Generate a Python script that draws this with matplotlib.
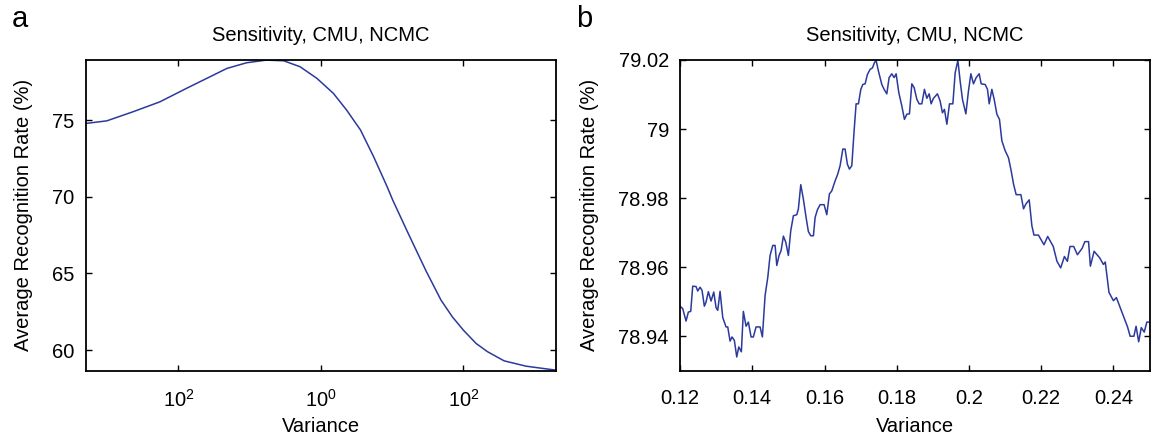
import numpy as np
import matplotlib
matplotlib.use("Agg")
import matplotlib.pyplot as plt
from matplotlib.ticker import FuncFormatter, NullLocator

plt.rcParams['font.family'] = ['Liberation Sans', 'DejaVu Sans']
plt.rcParams['mathtext.default'] = 'regular'

# panel a : recognition rate vs variance (log axis)
var_a = [5.0e-4, 9.9e-4, 2.3e-3, 5.5e-3, 1.3e-2, 2.5e-2, 4.8e-2, 9.1e-2, 0.17, 0.30,
         0.51, 0.88, 1.5, 2.3, 3.6, 5.5, 8.5, 10.2, 16.5, 30, 48.5, 70, 100, 151,
         219, 372, 759, 2000]
rate_a = [74.78, 74.95, 75.54, 76.19, 77.07, 77.72, 78.37, 78.74, 78.91, 78.87,
          78.48, 77.72, 76.74, 75.65, 74.35, 72.61, 70.66, 69.78, 67.69, 65.15,
          63.26, 62.17, 61.30, 60.43, 59.89, 59.30, 58.95, 58.69]
ticks_a = [1e-2, 1e0, 1e2]
ticklabels_a = ['10$^{2}$', '10$^{0}$', '10$^{2}$']

# panel b : zoom around the optimum
var_b = [0.12000, 0.12074, 0.12166, 0.12230, 0.12296, 0.12351, 0.12443, 0.12490, 0.12554, 0.12609,
         0.12673, 0.12720, 0.12784, 0.12859, 0.12934, 0.12997, 0.13044, 0.13108, 0.13183, 0.13274,
         0.13321, 0.13385, 0.13440, 0.13504, 0.13570, 0.13626, 0.13698, 0.13753, 0.13828, 0.13892,
         0.13967, 0.14030, 0.14105, 0.14216, 0.14280, 0.14355, 0.14430, 0.14493, 0.14568, 0.14632,
         0.14679, 0.14742, 0.14798, 0.14862, 0.14928, 0.15000, 0.15066, 0.15139, 0.15233, 0.15277,
         0.15343, 0.15415, 0.15490, 0.15554, 0.15620, 0.15693, 0.15740, 0.15803, 0.15878, 0.15989,
         0.16063, 0.16136, 0.16202, 0.16294, 0.16368, 0.16432, 0.16507, 0.16570, 0.16634, 0.16690,
         0.16756, 0.16820, 0.16875, 0.16939, 0.17006, 0.17061, 0.17125, 0.17188, 0.17263, 0.17327,
         0.17382, 0.17429, 0.17493, 0.17587, 0.17650, 0.17725, 0.17789, 0.17864, 0.17928, 0.17983,
         0.18058, 0.18141, 0.18213, 0.18280, 0.18352, 0.18418, 0.18482, 0.18557, 0.18621, 0.18695,
         0.18767, 0.18834, 0.18898, 0.18953, 0.19017, 0.19127, 0.19202, 0.19266, 0.19321, 0.19388,
         0.19461, 0.19554, 0.19618, 0.19693, 0.19756, 0.19820, 0.19914, 0.19986, 0.20053, 0.20125,
         0.20200, 0.20283, 0.20338, 0.20449, 0.20513, 0.20560, 0.20634, 0.20698, 0.20773, 0.20845,
         0.20911, 0.21003, 0.21094, 0.21169, 0.21233, 0.21307, 0.21438, 0.21511, 0.21576, 0.21668,
         0.21742, 0.21800, 0.21923, 0.22077, 0.22180, 0.22334, 0.22437, 0.22540, 0.22643, 0.22725,
         0.22797, 0.22900, 0.23003, 0.23136, 0.23208, 0.23311, 0.23362, 0.23465, 0.23620, 0.23722,
         0.23774, 0.23877, 0.24000, 0.24082, 0.24288, 0.24391, 0.24463, 0.24566, 0.24627, 0.24699,
         0.24771, 0.24853, 0.24925, 0.25000]
rate_b = [78.9487, 78.9480, 78.9444, 78.9470, 78.9472, 78.9545, 78.9544, 78.9531, 78.9542, 78.9533,
          78.9487, 78.9499, 78.9529, 78.9502, 78.9528, 78.9483, 78.9475, 78.9530, 78.9454, 78.9427,
          78.9427, 78.9386, 78.9398, 78.9388, 78.9340, 78.9369, 78.9355, 78.9472, 78.9429, 78.9441,
          78.9398, 78.9398, 78.9427, 78.9427, 78.9398, 78.9518, 78.9571, 78.9634, 78.9663, 78.9663,
          78.9605, 78.9634, 78.9648, 78.9690, 78.9672, 78.9634, 78.9706, 78.9749, 78.9752, 78.9769,
          78.9839, 78.9797, 78.9744, 78.9703, 78.9691, 78.9691, 78.9744, 78.9766, 78.9781, 78.9781,
          78.9752, 78.9812, 78.9821, 78.9850, 78.9870, 78.9894, 78.9942, 78.9942, 78.9898, 78.9884,
          78.9894, 78.9995, 79.0073, 79.0073, 79.0115, 79.0129, 79.0131, 79.0158, 79.0173, 79.0177,
          79.0192, 79.0199, 79.0168, 79.0129, 79.0115, 79.0102, 79.0149, 79.0160, 79.0149, 79.0160,
          79.0105, 79.0067, 79.0028, 79.0043, 79.0044, 79.0131, 79.0120, 79.0086, 79.0073, 79.0073,
          79.0115, 79.0089, 79.0102, 79.0073, 79.0089, 79.0102, 79.0081, 79.0047, 79.0057, 79.0014,
          79.0073, 79.0073, 79.0163, 79.0199, 79.0139, 79.0086, 79.0044, 79.0110, 79.0160, 79.0131,
          79.0149, 79.0160, 79.0131, 79.0129, 79.0115, 79.0073, 79.0115, 79.0086, 79.0043, 79.0028,
          78.9966, 78.9937, 78.9917, 78.9879, 78.9841, 78.9810, 78.9810, 78.9769, 78.9783, 78.9795,
          78.9720, 78.9693, 78.9693, 78.9665, 78.9689, 78.9660, 78.9617, 78.9598, 78.9631, 78.9617,
          78.9660, 78.9660, 78.9636, 78.9655, 78.9674, 78.9674, 78.9603, 78.9646, 78.9627, 78.9608,
          78.9615, 78.9527, 78.9503, 78.9512, 78.9455, 78.9427, 78.9400, 78.9400, 78.9429, 78.9384,
          78.9425, 78.9412, 78.9441, 78.9441]
xticks_b = [0.12, 0.14, 0.16, 0.18, 0.2, 0.22, 0.24]
yticks_b = [78.94, 78.96, 78.98, 79.0, 79.02]

title = 'Sensitivity, CMU, NCMC'
line_col = '#2b3a9b'
fs = 14.5

fig = plt.figure(figsize=(11.53, 4.43), dpi=100)
ax1 = fig.add_axes([0.0743, 0.163, 0.4080, 0.7016])
ax2 = fig.add_axes([0.5898, 0.163, 0.4072, 0.7016])


def style(ax):
    for s in ax.spines.values():
        s.set_linewidth(1.3)
    ax.tick_params(direction='in', top=True, right=True, length=4, width=1,
                   labelsize=fs)
    ax.tick_params(axis='x', pad=13)
    ax.tick_params(axis='y', pad=8)
    ax.set_title(title, fontsize=fs, pad=14)
    ax.set_xlabel('Variance', fontsize=fs)
    ax.xaxis.set_label_coords(0.5, -0.15)
    ax.set_ylabel('Average Recognition Rate (%)', fontsize=fs, labelpad=14)


ax1.plot(var_a, rate_a, color=line_col, lw=1.1)
ax1.set_xscale('log')
ax1.set_xlim(5e-4, 2000)
ax1.set_ylim(58.65, 78.92)
ax1.set_xticks(ticks_a)
ax1.set_xticklabels(ticklabels_a)
ax1.xaxis.set_minor_locator(NullLocator())
ax1.set_yticks([60, 65, 70, 75])
style(ax1)

ax2.plot(var_b, rate_b, color=line_col, lw=1.1)
ax2.set_xlim(0.12, 0.25)
ax2.set_ylim(78.930, 79.02)
ax2.set_xticks(xticks_b)
ax2.set_yticks(yticks_b)
ax2.xaxis.set_major_formatter(FuncFormatter(lambda v, p: '%g' % round(v, 4)))
ax2.yaxis.set_major_formatter(FuncFormatter(lambda v, p: '%g' % round(v, 4)))
style(ax2)

fig.text(0.0104, 0.939, 'a', fontsize=21, va='baseline')
fig.text(0.4995, 0.939, 'b', fontsize=21, va='baseline')

fig.savefig('out.png', dpi=100)
